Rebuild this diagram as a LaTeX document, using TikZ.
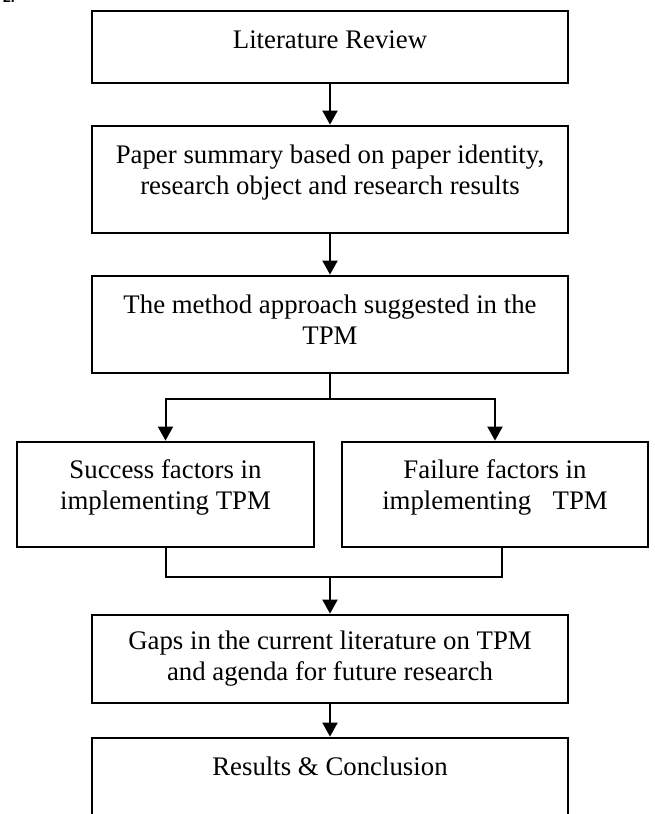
\documentclass[tikz,border=0pt]{standalone}
\usepackage{fontspec}
\setmainfont{Liberation Serif}
\newfontfamily\headfont{Liberation Sans}
\usetikzlibrary{arrows.meta}

\tikzset{
  stepbox/.style={draw=black, line width=2.8pt, rectangle, inner sep=0pt},
  steptext/.style={align=center, inner sep=0pt, anchor=base,
                   font=\fontsize{26.8}{31.5}\selectfont},
  link/.style={line width=2pt},
  flow/.style={link, -{Triangle[length=14pt,width=15pt]}},
}

\begin{document}
\begin{tikzpicture}[x=1pt,y=-1pt]
  \clip (0,0) rectangle (654,814);
  \useasboundingbox (0,0) rectangle (654,814);

  % section number at the top edge
  \node[anchor=base west, inner sep=0pt, font=\headfont\bfseries\fontsize{14}{16}\selectfont] (num) at (3,2) {2.};

  % main column (text nodes are anchored at the baseline of their last line)
  \node[stepbox, minimum width=476pt, minimum height=72pt]  (lit)  at (330,47) {};
  \node[steptext] (litT) at (330,48) {Literature Review};

  \node[stepbox, minimum width=476pt, minimum height=107pt] (sum)  at (330,179.5) {};
  \node[steptext] (sumT) at (330,194.5) {Paper summary based on paper identity,\\research object and research results};

  \node[stepbox, minimum width=476pt, minimum height=97pt]  (meth) at (330,324.5) {};
  \node[steptext] (methT) at (330,344.5) {The method approach suggested in the\\TPM};

  % two branches
  \node[stepbox, minimum width=297pt, minimum height=105pt] (succ) at (165.5,494.5) {};
  \node[steptext] (succT) at (165.5,509.5) {Success factors in\\implementing TPM};

  \node[stepbox, minimum width=306pt, minimum height=105pt] (fail) at (495,494.5) {};
  \node[steptext] (failT) at (495,509.5) {Failure factors in\\implementing\hspace{0.8em}TPM};

  \node[stepbox, minimum width=476pt, minimum height=88pt]  (gaps) at (330,659) {};
  \node[steptext] (gapsT) at (330,680.5) {Gaps in the current literature on TPM\\and agenda for future research};

  \node[stepbox, minimum width=476pt, minimum height=100pt] (res)  at (330,788) {};
  \node[steptext] (resT) at (330,775) {Results \& Conclusion};

  % connectors
  \coordinate (fork) at (330,399);
  \coordinate (joinR) at (502,577);

  \draw[flow] (lit.south) -- (sum.north);
  \draw[flow] (sum.south) -- (meth.north);
  \draw[link] (meth.south) -- (fork);
  \draw[flow] (fork) -| (succ.north);
  \draw[flow] (fork) -| (fail.north);
  \draw[link] (succ.south) |- (joinR) -- (joinR |- fail.south);
  \draw[flow] (gaps.north |- joinR) -- (gaps.north);
  \draw[flow] (gaps.south) -- (res.north);
\end{tikzpicture}
\end{document}
